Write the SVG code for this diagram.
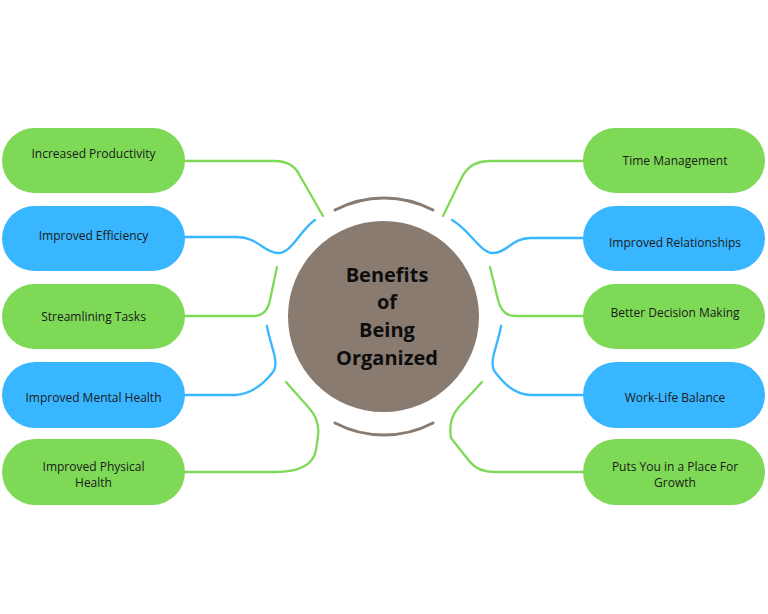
<svg xmlns="http://www.w3.org/2000/svg" width="768" height="614" viewBox="0 0 768 614">
<style>
.g{fill:#7ED957}
.b{fill:#38B6FF}
.t{font-family:"Open Sans","Liberation Sans",sans-serif;font-size:12px;fill:#1a1a1a;text-anchor:middle}
.c{fill:none;stroke-width:2.3;stroke-linecap:round;stroke-linejoin:round}
.cg{stroke:#7ED957}
.cb{stroke:#38B6FF}
.arc{fill:none;stroke:#8A7B71;stroke-width:3;stroke-linecap:round}
.h{font-family:"Open Sans","Liberation Sans",sans-serif;font-size:20px;font-weight:bold;fill:#0d0d0d;text-anchor:middle}
</style>
<rect width="768" height="614" fill="#ffffff"/>
<g id="connectors">
<path class="c cg" d="M185,161 L275,161 Q293,161 300,176 L323,216"/>
<path class="c cb" d="M185,237 L237,237 C258,237 264,253 278,253 C292,253 300,230 315,220"/>
<path class="c cg" d="M277,267 L270,300 Q267,316 253,316 L185,316"/>
<path class="c cb" d="M267,326 C270,345 280,362 273,372 C263,385 250,394 235,395 L185,395"/>
<path class="c cg" d="M286,382 L309,408 Q320,420 318,436 L316,450 Q312,472 275,472 L185,472"/>
<path class="c cg" d="M443,216 L462,177 Q470,161 490,161 L583,161"/>
<path class="c cb" d="M452,220 C470,230 480,253 493,253 C507,253 512,238 530,238 L583,238"/>
<path class="c cg" d="M490,267 L498,300 Q502,316 515,316 L583,316"/>
<path class="c cb" d="M501,326 C498,345 488,362 495,372 C505,385 515,394 530,395 L583,395"/>
<path class="c cg" d="M482,382 L458,408 Q448,420 451,438 L470,462 Q478,472 495,472 L583,472"/>
<path class="arc" d="M335,210 A106,106 0 0 1 433,210"/>
<path class="arc" d="M335,423 A106,106 0 0 0 433,423"/>
</g>
<g id="center">
<circle cx="383.5" cy="316.5" r="95.5" fill="#8A7B71"/>
<text class="h" x="387" y="282">Benefits</text>
<text class="h" x="387" y="309">of</text>
<text class="h" x="387" y="337">Being</text>
<text class="h" x="387" y="365">Organized</text>
</g>
<g id="n1"><rect class="g" x="2" y="128" width="183" height="65" rx="32.5"/><text class="t" x="93.5" y="158">Increased Productivity</text></g>
<g id="n2"><rect class="b" x="2" y="206" width="183" height="65" rx="32.5"/><text class="t" x="93.5" y="240">Improved Efficiency</text></g>
<g id="n3"><rect class="g" x="2" y="284" width="183" height="65" rx="32.5"/><text class="t" x="93.5" y="321">Streamlining Tasks</text></g>
<g id="n4"><rect class="b" x="2" y="362" width="183" height="66" rx="33"/><text class="t" x="93.5" y="402">Improved Mental Health</text></g>
<g id="n5"><rect class="g" x="2" y="439" width="183" height="66" rx="33"/><text class="t" x="93.5" y="471">Improved Physical</text><text class="t" x="93.5" y="487">Health</text></g>
<g id="n6"><rect class="g" x="583" y="128" width="182" height="65" rx="32.5"/><text class="t" x="675" y="165">Time Management</text></g>
<g id="n7"><rect class="b" x="583" y="206" width="182" height="65" rx="32.5"/><text class="t" x="675" y="247">Improved Relationships</text></g>
<g id="n8"><rect class="g" x="583" y="284" width="182" height="65" rx="32.5"/><text class="t" x="675" y="317">Better Decision Making</text></g>
<g id="n9"><rect class="b" x="583" y="362" width="182" height="66" rx="33"/><text class="t" x="675" y="402">Work-Life Balance</text></g>
<g id="n10"><rect class="g" x="583" y="439" width="182" height="66" rx="33"/><text class="t" x="675" y="471">Puts You in a Place For</text><text class="t" x="675" y="487">Growth</text></g>
</svg>
